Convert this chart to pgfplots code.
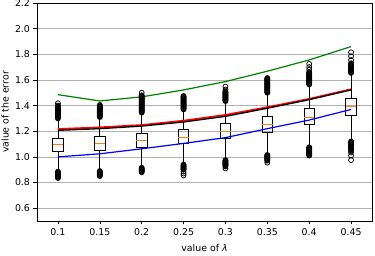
\documentclass[border=0pt]{standalone}
\usepackage{fontspec}
\setmainfont{DejaVu Sans}
\usepackage{pgfplots}
\pgfplotsset{compat=1.18}
\usepgfplotslibrary{statistics}
\usetikzlibrary{calc}
\definecolor{mplorange}{HTML}{FF7F0E}
\definecolor{mplgreen}{HTML}{008000}
\definecolor{gridgray}{HTML}{B0B0B0}
\pgfplotsset{
  mybox/.style={black, line width=0.7pt, mark=none, boxplot/draw direction=y},
  flier/.style={only marks, mark=o, mark size=2.5pt, black, line width=0.75pt},
}
\begin{document}
\begin{tikzpicture}[font=\fontsize{9.4}{11}\selectfont]
\begin{axis}[
  scale only axis, width=335pt, height=218pt,
  xmin=0.5, xmax=8.5, ymin=0.5, ymax=2.2,
  xtick={1,2,3,4,5,6,7,8},
  xticklabels={0.1,0.15,0.2,0.25,0.3,0.35,0.4,0.45},
  ytick={0.6,0.8,1.0,1.2,1.4,1.6,1.8,2.0,2.2},
  yticklabels={0.6,0.8,1.0,1.2,1.4,1.6,1.8,2.0,2.2},
  ymajorgrids, grid style={gridgray, line width=0.6pt},
  tick align=outside, tick pos=left, major tick length=3.5pt,
  tick style={black, line width=0.6pt},
  axis line style={black, line width=0.6pt},
  xlabel={value of {\itshape λ}},
  ylabel={value of the error},
  xlabel style={at={(axis description cs:0.5,-0.142)}, anchor=base},
  ylabel style={at={(axis description cs:-0.0955,0.5)}, anchor=center},
  boxplot/every median/.style={draw=mplorange, line width=0.8pt},
]
\coordinate (bl) at (rel axis cs:0,0);
\coordinate (tr) at (rel axis cs:1,1);
% boxes
\addplot[mybox, boxplot prepared={draw position=1, lower whisker=0.89, lower quartile=1.043, median=1.10, upper quartile=1.145, upper whisker=1.295, box extend=0.25, whisker extend=0}] coordinates {};
\addplot[mybox, boxplot prepared={draw position=2, lower whisker=0.90, lower quartile=1.051, median=1.108, upper quartile=1.160, upper whisker=1.305, box extend=0.25, whisker extend=0}] coordinates {};
\addplot[mybox, boxplot prepared={draw position=3, lower whisker=0.92, lower quartile=1.071, median=1.129, upper quartile=1.185, upper whisker=1.34, box extend=0.25, whisker extend=0}] coordinates {};
\addplot[mybox, boxplot prepared={draw position=4, lower whisker=0.945, lower quartile=1.105, median=1.152, upper quartile=1.215, upper whisker=1.365, box extend=0.25, whisker extend=0}] coordinates {};
\addplot[mybox, boxplot prepared={draw position=5, lower whisker=0.98, lower quartile=1.142, median=1.196, upper quartile=1.262, upper whisker=1.43, box extend=0.25, whisker extend=0}] coordinates {};
\addplot[mybox, boxplot prepared={draw position=6, lower whisker=1.02, lower quartile=1.191, median=1.256, upper quartile=1.313, upper whisker=1.495, box extend=0.25, whisker extend=0}] coordinates {};
\addplot[mybox, boxplot prepared={draw position=7, lower whisker=1.08, lower quartile=1.254, median=1.311, upper quartile=1.381, upper whisker=1.56, box extend=0.25, whisker extend=0}] coordinates {};
\addplot[mybox, boxplot prepared={draw position=8, lower whisker=1.125, lower quartile=1.321, median=1.391, upper quartile=1.457, upper whisker=1.65, box extend=0.25, whisker extend=0}] coordinates {};
% outliers
\addplot[flier] coordinates {
(1,1.300)(1,1.305)(1,1.310)(1,1.315)(1,1.320)(1,1.325)(1,1.330)(1,1.335)(1,1.340)(1,1.345)(1,1.350)(1,1.355)(1,1.360)(1,1.365)(1,1.370)(1,1.375)(1,1.380)(1,1.385)(1,1.390)(1,1.395)(1,1.400)(1,1.418)
(1,0.835)(1,0.840)(1,0.845)(1,0.850)(1,0.855)(1,0.860)(1,0.865)(1,0.870)(1,0.875)(1,0.880)(1,0.885)
};
\addplot[flier] coordinates {
(2,1.310)(2,1.315)(2,1.320)(2,1.325)(2,1.330)(2,1.335)(2,1.340)(2,1.345)(2,1.350)(2,1.355)(2,1.360)(2,1.365)(2,1.370)(2,1.375)(2,1.380)(2,1.385)(2,1.390)(2,1.395)(2,1.400)(2,1.405)
(2,0.850)(2,0.855)(2,0.860)(2,0.865)(2,0.870)(2,0.875)(2,0.880)(2,0.885)(2,0.890)
};
\addplot[flier] coordinates {
(3,1.345)(3,1.350)(3,1.355)(3,1.360)(3,1.365)(3,1.370)(3,1.375)(3,1.380)(3,1.385)(3,1.390)(3,1.395)(3,1.400)(3,1.405)(3,1.410)(3,1.415)(3,1.420)(3,1.425)(3,1.430)(3,1.435)(3,1.440)(3,1.445)(3,1.450)(3,1.455)(3,1.460)(3,1.465)(3,1.470)(3,1.475)(3,1.480)(3,1.500)
(3,0.880)(3,0.885)(3,0.890)(3,0.895)(3,0.900)(3,0.905)(3,0.910)(3,0.915)
};
\addplot[flier] coordinates {
(4,1.370)(4,1.375)(4,1.380)(4,1.385)(4,1.390)(4,1.395)(4,1.400)(4,1.405)(4,1.410)(4,1.415)(4,1.420)(4,1.425)(4,1.430)(4,1.435)(4,1.440)(4,1.445)(4,1.450)(4,1.455)(4,1.460)(4,1.465)(4,1.470)(4,1.475)
(4,0.940)(4,0.935)(4,0.930)(4,0.925)(4,0.920)(4,0.915)(4,0.910)(4,0.905)(4,0.900)(4,0.885)(4,0.870)(4,0.855)
};
\addplot[flier] coordinates {
(5,1.435)(5,1.440)(5,1.445)(5,1.450)(5,1.455)(5,1.460)(5,1.465)(5,1.470)(5,1.475)(5,1.480)(5,1.485)(5,1.490)(5,1.495)(5,1.500)(5,1.505)(5,1.510)(5,1.525)(5,1.548)
(5,0.975)(5,0.970)(5,0.965)(5,0.960)(5,0.955)(5,0.950)(5,0.945)(5,0.940)(5,0.935)(5,0.930)(5,0.925)(5,0.910)
};
\addplot[flier] coordinates {
(6,1.500)(6,1.505)(6,1.510)(6,1.515)(6,1.520)(6,1.525)(6,1.530)(6,1.535)(6,1.540)(6,1.545)(6,1.550)(6,1.555)(6,1.560)(6,1.565)(6,1.570)(6,1.575)(6,1.580)(6,1.585)(6,1.590)(6,1.595)(6,1.600)(6,1.605)(6,1.610)(6,1.615)
(6,1.015)(6,1.010)(6,1.005)(6,1.000)(6,0.995)(6,0.990)(6,0.985)(6,0.980)(6,0.975)(6,0.970)(6,0.955)
};
\addplot[flier] coordinates {
(7,1.565)(7,1.570)(7,1.575)(7,1.580)(7,1.585)(7,1.590)(7,1.595)(7,1.600)(7,1.605)(7,1.610)(7,1.615)(7,1.620)(7,1.625)(7,1.630)(7,1.635)(7,1.640)(7,1.645)(7,1.650)(7,1.655)(7,1.660)(7,1.680)(7,1.700)(7,1.725)
(7,1.075)(7,1.070)(7,1.065)(7,1.060)(7,1.055)(7,1.050)(7,1.045)(7,1.040)(7,1.035)(7,1.030)(7,1.025)(7,1.020)(7,1.015)(7,1.010)
};
\addplot[flier] coordinates {
(8,1.655)(8,1.660)(8,1.665)(8,1.670)(8,1.675)(8,1.680)(8,1.685)(8,1.690)(8,1.695)(8,1.700)(8,1.705)(8,1.710)(8,1.715)(8,1.720)(8,1.725)(8,1.730)(8,1.755)(8,1.785)(8,1.815)
(8,1.120)(8,1.115)(8,1.110)(8,1.105)(8,1.100)(8,1.095)(8,1.090)(8,1.085)(8,1.080)(8,1.075)(8,1.070)(8,1.065)(8,1.060)(8,1.055)(8,1.050)(8,1.035)(8,1.010)(8,0.975)
};
% lines
\addplot[mplgreen, line width=1.2pt, mark=none] coordinates {(1,1.485)(2,1.436)(3,1.468)(4,1.522)(5,1.587)(6,1.668)(7,1.756)(8,1.86)};
\addplot[red, line width=1.8pt, mark=none] coordinates {(1,1.217)(2,1.23)(3,1.248)(4,1.282)(5,1.327)(6,1.387)(7,1.452)(8,1.527)};
\addplot[black, line width=1.3pt, mark=none] coordinates {(1,1.207)(2,1.22)(3,1.24)(4,1.272)(5,1.316)(6,1.379)(7,1.446)(8,1.522)};
\addplot[blue, line width=1.2pt, mark=none] coordinates {(1,1.0)(2,1.024)(3,1.063)(4,1.105)(5,1.15)(6,1.22)(7,1.287)(8,1.37)};
\end{axis}
\pgfresetboundingbox
\path ($(bl)+(-37pt,-35pt)$) rectangle ($(tr)+(3pt,3pt)$);
\end{tikzpicture}
\end{document}
